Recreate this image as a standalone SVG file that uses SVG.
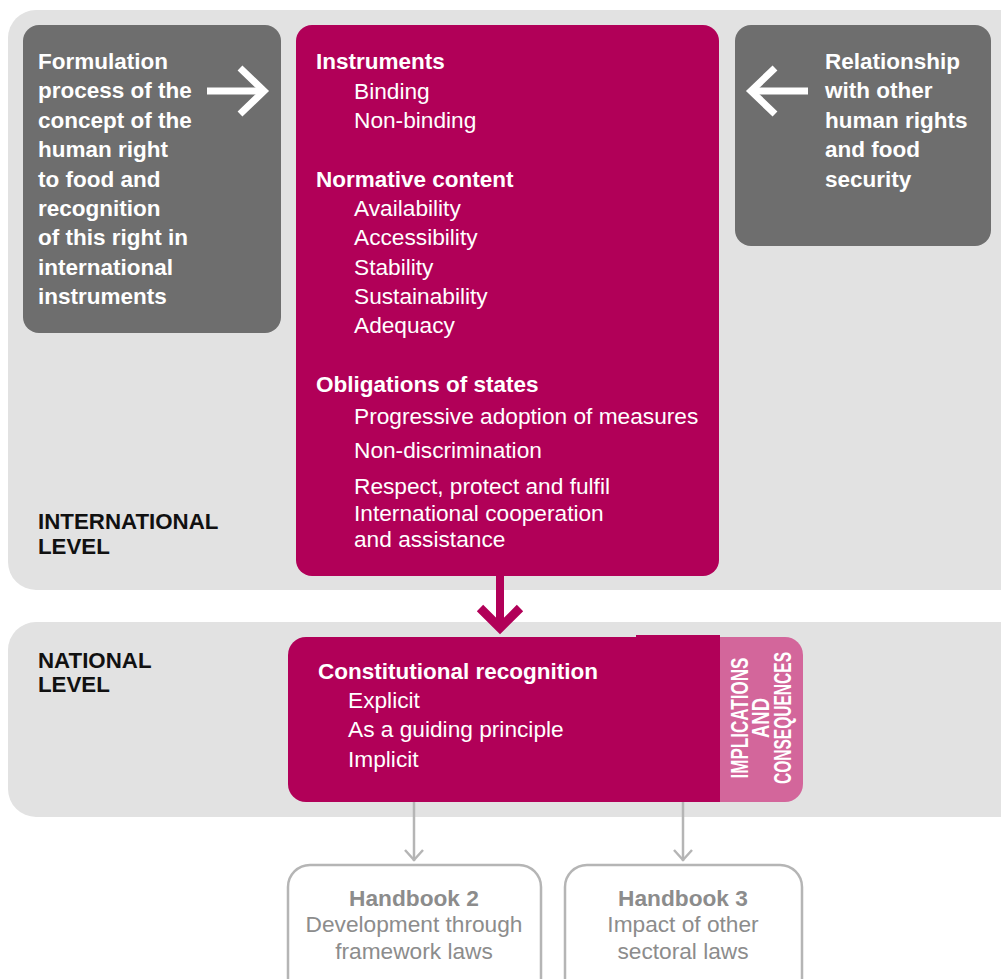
<svg xmlns="http://www.w3.org/2000/svg" width="1001" height="979" viewBox="0 0 1001 979">
<style>
text{font-family:"Liberation Sans",Arial,Helvetica,sans-serif;}
.panel{fill:#e2e2e2;}
.gbox{fill:#6e6e6e;}
.mag{fill:#b10058;}
.wb{fill:#fff;font-weight:bold;font-size:22.5px;}
.wr{fill:#fff;font-size:22.7px;}
.lvl{fill:#111;font-weight:bold;font-size:22.3px;}
.vt{fill:#fff;font-weight:bold;font-size:23px;}
.hb{fill:none;stroke:#b5b5b5;stroke-width:2.5;}
.hbt{fill:#8c8c8c;font-size:22.7px;text-anchor:middle;}
.wa{fill:none;stroke:#fff;stroke-width:7;}
.ga{fill:none;stroke:#b5b5b5;stroke-width:2.5;}
</style>
<rect width="1001" height="979" fill="#fff"/>
<g id="international-panel">
<rect class="panel" x="8" y="10" width="1020" height="580" rx="28"/>
<text class="lvl" x="38" y="529">INTERNATIONAL</text>
<text class="lvl" x="38" y="554">LEVEL</text>
</g>
<g id="national-panel">
<rect class="panel" x="8" y="622" width="1020" height="195" rx="28"/>
<text class="lvl" x="38" y="668">NATIONAL</text>
<text class="lvl" x="38" y="692">LEVEL</text>
</g>
<g id="formulation">
<rect class="gbox" x="23" y="25" width="258" height="308" rx="16"/>
<text class="wb" x="38">
<tspan x="38" y="69">Formulation</tspan>
<tspan x="38" y="98">process of the</tspan>
<tspan x="38" y="128">concept of the</tspan>
<tspan x="38" y="157">human right</tspan>
<tspan x="38" y="187">to food and</tspan>
<tspan x="38" y="216">recognition</tspan>
<tspan x="38" y="245">of this right in</tspan>
<tspan x="38" y="275">international</tspan>
<tspan x="38" y="304">instruments</tspan>
</text>
</g>
<g id="relationship">
<rect class="gbox" x="735" y="25" width="256" height="221" rx="16"/>
<text class="wb">
<tspan x="825" y="69">Relationship</tspan>
<tspan x="825" y="98">with other</tspan>
<tspan x="825" y="128">human rights</tspan>
<tspan x="825" y="157">and food</tspan>
<tspan x="825" y="187">security</tspan>
</text>
</g>
<g id="international-content">
<rect class="mag" x="296" y="25" width="423" height="551" rx="16"/>
<text class="wb" x="316" y="69">Instruments</text>
<text class="wr" x="354" y="99">Binding</text>
<text class="wr" x="354" y="128">Non-binding</text>
<text class="wb" x="316" y="187">Normative content</text>
<text class="wr" x="354" y="216">Availability</text>
<text class="wr" x="354" y="245">Accessibility</text>
<text class="wr" x="354" y="275">Stability</text>
<text class="wr" x="354" y="304">Sustainability</text>
<text class="wr" x="354" y="333">Adequacy</text>
<text class="wb" x="316" y="392">Obligations of states</text>
<text class="wr" x="354" y="424">Progressive adoption of measures</text>
<text class="wr" x="354" y="458">Non-discrimination</text>
<text class="wr" x="354" y="494">Respect, protect and fulfil</text>
<text class="wr" x="354" y="521">International cooperation</text>
<text class="wr" x="354" y="547">and assistance</text>
</g>
<g id="national-content">
<rect x="690" y="637" width="113" height="165" rx="18" fill="#d3669b"/>
<path class="mag" d="M306 637 H720 V802 H306 A18 18 0 0 1 288 784 V655 A18 18 0 0 1 306 637 Z"/>
<rect class="mag" x="636" y="635" width="84" height="4"/>
<text class="wb" x="318" y="679">Constitutional recognition</text>
<text class="wr" x="348" y="708">Explicit</text>
<text class="wr" x="348" y="737">As a guiding principle</text>
<text class="wr" x="348" y="767">Implicit</text>
<text class="vt" transform="translate(748,718) rotate(-90)" text-anchor="middle" textLength="121" lengthAdjust="spacingAndGlyphs">IMPLICATIONS</text>
<text class="vt" transform="translate(769,718) rotate(-90)" text-anchor="middle" textLength="40" lengthAdjust="spacingAndGlyphs">AND</text>
<text class="vt" transform="translate(791,718) rotate(-90)" text-anchor="middle" textLength="132" lengthAdjust="spacingAndGlyphs">CONSEQUENCES</text>
</g>
<g id="handbook2">
<rect class="hb" x="288" y="865" width="253" height="140" rx="22"/>
<text class="hbt" x="414" y="906" font-weight="bold">Handbook 2</text>
<text class="hbt" x="414" y="932">Development through</text>
<text class="hbt" x="414" y="959">framework laws</text>
</g>
<g id="handbook3">
<rect class="hb" x="565" y="865" width="237" height="140" rx="22"/>
<text class="hbt" x="683" y="906" font-weight="bold">Handbook 3</text>
<text class="hbt" x="683" y="932">Impact of other</text>
<text class="hbt" x="683" y="959">sectoral laws</text>
</g>
<g id="connectors">
<path class="wa" d="M207 91 H264"/>
<path class="wa" d="M240 68 L264 91 L240 114"/>
<path class="wa" d="M808 91 H751"/>
<path class="wa" d="M775 68 L751 91 L775 114"/>
<rect x="496" y="576" width="8" height="52" fill="#b10058"/>
<path d="M480 608 L500 628 L520 608" fill="none" stroke="#b10058" stroke-width="9"/>
<path class="ga" d="M414 802 V861"/>
<path class="ga" d="M405 850 L414 860 L423 850"/>
<path class="ga" d="M683 802 V861"/>
<path class="ga" d="M674 850 L683 860 L692 850"/>
</g>
</svg>
